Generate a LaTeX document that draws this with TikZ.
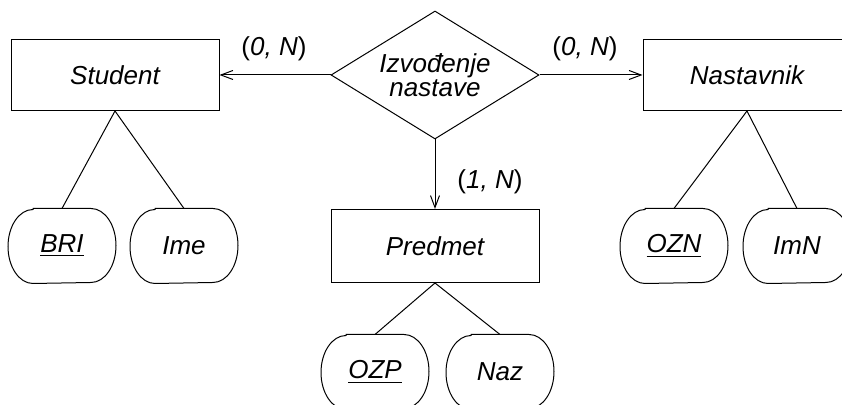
\documentclass[tikz,border=0pt]{standalone}
\usepackage{fontspec}
\setmainfont{Liberation Sans}
\usetikzlibrary{arrows.meta, shapes.geometric}

\begin{document}
\begin{tikzpicture}[x=0.5pt, y=0.5pt, line width=0.5pt,
  every node/.style={font=\fontsize{13}{10.5}\selectfont\itshape, inner sep=0pt},
  entity/.style={draw, rectangle, minimum width=104pt, minimum height=35.5pt},
  attrib/.style={rectangle, minimum width=53.5pt, minimum height=37pt},
  relship/.style={draw, diamond, aspect=1.625, minimum width=104pt, minimum height=64pt, align=center},
  card/.style={font=\fontsize{13}{10.5}\selectfont},
  >={Straight Barb[length=6pt, width=4.5pt]}]
  \useasboundingbox (0,0) rectangle (842,405);
  % entiteti i veza
  \node[entity] (stud) at (115,330) {Student};
  \node[relship] (izv) at (435,330) {Izvođenje\\nastave};
  \node[entity] (nast) at (747,330) {Nastavnik};
  \node[entity, minimum height=36.5pt] (pred) at (435,159) {Predmet};
  % atributi
  \node[attrib] (bri) at (62,159) {\underline{BRI}};
  \node[attrib] (ime) at (184,159) {Ime};
  \node[attrib] (ozn) at (674,159) {\underline{OZN}};
  \node[attrib] (imn) at (797,159) {ImN};
  \node[attrib] (ozp) at (375,33) {\underline{OZP}};
  \node[attrib] (naz) at (500,33) {Naz};
  \foreach \a in {bri,ime,ozn,imn,ozp,naz}
    \draw ([xshift=12.5pt]\a.north west) -- ([xshift=-12.5pt]\a.north east)
      arc[start angle=90, end angle=-90, x radius=12.5pt, y radius=18.5pt]
      -- ([xshift=12.5pt]\a.south west)
      arc[start angle=270, end angle=90, x radius=12.5pt, y radius=18.5pt] -- cycle;
  % kardinalnosti
  \node[card] (cs) at (274,356) {(\textit{0, N})};
  \node[card] (cn) at (585,356) {(\textit{0, N})};
  \node[card] (cp) at (490,223) {(\textit{1, N})};
  \draw[->] (izv.west) -- (stud.east);
  \draw[->] (izv.east) -- (nast.west);
  \draw[->] (izv.south) -- (pred.north);
  \draw (stud.south) -- (bri.north);
  \draw (stud.south) -- (ime.north);
  \draw (nast.south) -- (ozn.north);
  \draw (nast.south) -- (imn.north);
  \draw (pred.south) -- (ozp.north);
  \draw (pred.south) -- (naz.north);
\end{tikzpicture}
\end{document}
